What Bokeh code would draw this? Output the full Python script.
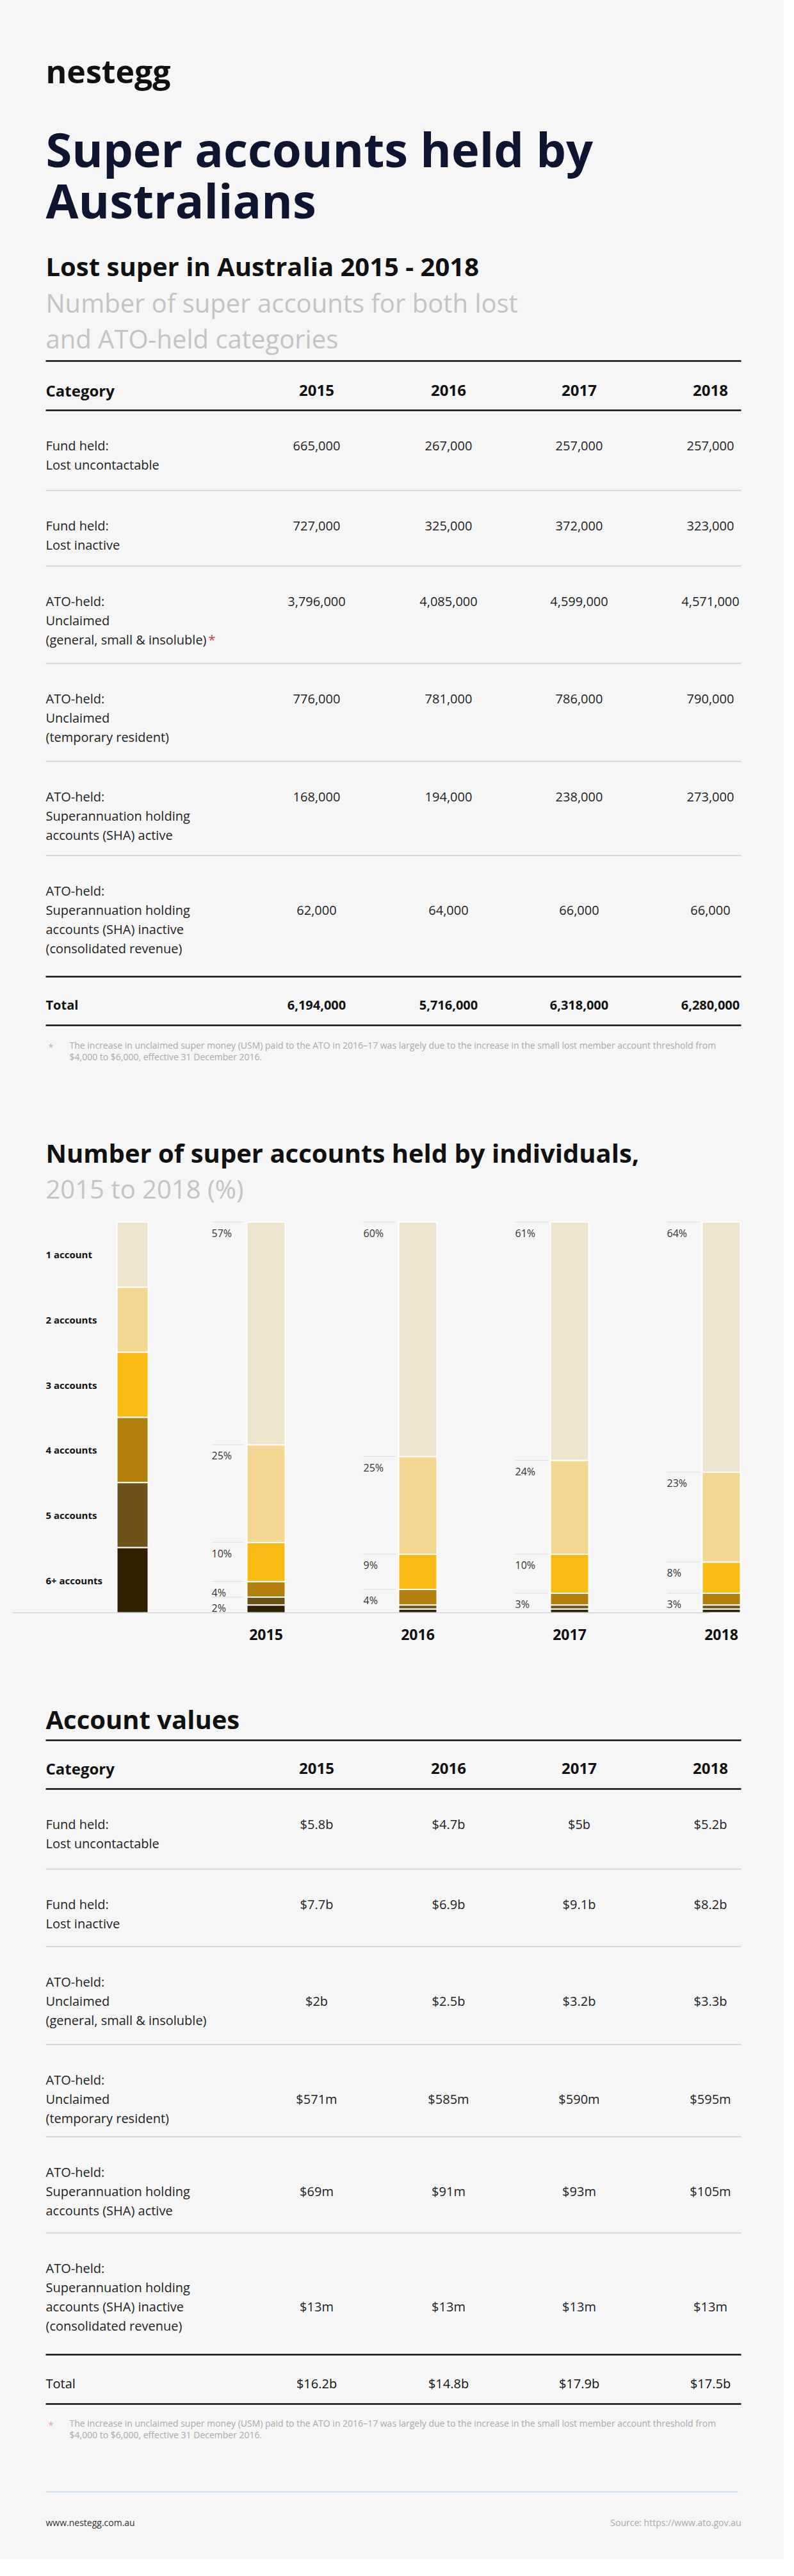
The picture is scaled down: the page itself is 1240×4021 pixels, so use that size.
from bokeh.plotting import figure
from bokeh.models import Range1d, ColumnDataSource
from bokeh.core.properties import value
from bokeh.embed import file_html
from bokeh.resources import INLINE

# ---------------- data ----------------
years = ["2015", "2016", "2017", "2018"]

lost_categories = [
    ["Fund held:", "Lost uncontactable"],
    ["Fund held:", "Lost inactive"],
    ["ATO-held:", "Unclaimed", "(general, small & insoluble)"],
    ["ATO-held:", "Unclaimed", "(temporary resident)"],
    ["ATO-held:", "Superannuation holding", "accounts (SHA) active"],
    ["ATO-held:", "Superannuation holding", "accounts (SHA) inactive", "(consolidated revenue)"],
]
accounts_2015 = [665000, 727000, 3796000, 776000, 168000, 62000]
accounts_2016 = [267000, 325000, 4085000, 781000, 194000, 64000]
accounts_2017 = [257000, 372000, 4599000, 786000, 238000, 66000]
accounts_2018 = [257000, 323000, 4571000, 790000, 273000, 66000]
accounts_total = [6194000, 5716000, 6318000, 6280000]

value_categories = [
    ["Fund held:", "Lost uncontactable"],
    ["Fund held:", "Lost inactive"],
    ["ATO-held:", "Unclaimed", "(general, small & insoluble)"],
    ["ATO-held:", "Unclaimed", "(temporary resident)"],
    ["ATO-held:", "Superannuation holding", "accounts (SHA) active"],
    ["ATO-held:", "Superannuation holding", "accounts (SHA) inactive", "(consolidated revenue)"],
]
# values in $ millions
value_2015 = [5800, 7700, 2000, 571, 69, 13]
value_2016 = [4700, 6900, 2500, 585, 91, 13]
value_2017 = [5000, 9100, 3200, 590, 93, 13]
value_2018 = [5200, 8200, 3300, 595, 105, 13]
value_total = [16200, 14800, 17900, 17500]

holdings = ["1 account", "2 accounts", "3 accounts", "4 accounts", "5 accounts", "6+ accounts"]
share_2015 = [57, 25, 10, 4, 2, 2]
share_2016 = [60, 25, 9, 4, 1, 1]
share_2017 = [61, 24, 10, 3, 1, 1]
share_2018 = [64, 23, 8, 3, 1, 1]
holding_colors = ["#efe5cf", "#f3d792", "#f8bb16", "#b3800d", "#6d531b", "#2f2000"]

footnote = ["The increase in unclaimed super money (USM) paid to the ATO in 2016\u201317 was largely due to the increase in the small lost member account threshold from",
            "$4,000 to $6,000, effective 31 December 2016."]

# ---------------- figure ----------------
BG = "#f6f6f6"
W, H = 1224, 3995
p = figure(width=W, height=H, x_range=Range1d(8, 8 + W), y_range=Range1d(8 + H, 8),
           output_backend="svg", toolbar_location=None, min_border=0,
           x_axis_type=None, y_axis_type=None,
           background_fill_color=BG, border_fill_color=BG)
p.grid.visible = False
p.outline_line_color = None

# chart percentage scale: 0% at y=2525 px, 100% at y=1915 px
CH_TOP, CH_BOT = 1915, 2525
PXP = (CH_BOT - CH_TOP) / 100.0   # px per percent
p.extra_y_ranges = {"pct": Range1d(start=(CH_BOT - (8 + H)) / PXP, end=(CH_BOT - 8) / PXP)}

FONT = value("Open Sans")


def add_text(xs, ys, texts, size, color, style="normal", align="left",
             baseline="alphabetic", yr="default"):
    src = ColumnDataSource(dict(x=list(xs), y=list(ys), t=list(texts)))
    p.text(x="x", y="y", text="t", source=src, text_font=FONT, text_font_size=size,
           text_color=color, text_font_style=style, text_align=align,
           text_baseline=baseline, y_range_name=yr)


def hline(y, x0=79, x1=1165, color="#111111", width=2.5):
    p.segment(x0=[x0], x1=[x1], y0=[y], y1=[y], line_color=color, line_width=width)


X0, X1 = 79, 1165
COLS = [502, 708, 912, 1117]
LH = 30

# ---------------- header ----------------
add_text([X0], [118], ["nestegg"], "50px", "#111111", "bold")
add_text([X0, X0], [240, 320], ["Super accounts held by", "Australians"], "74px", "#0f1530", "bold")
add_text([X0], [423], ["Lost super in Australia 2015 - 2018"], "40px", "#111111", "bold")
add_text([X0, X0], [480, 536], ["Number of super accounts for both lost", "and ATO-held categories"],
         "40px", "#c4c4c4")


def draw_table(top, head_base, head_line, seps, end_line, total_base, total_line,
               cats, cols, val_idx, totals, total_bold, foot_base, star_after=None):
    hline(top)
    add_text([X0], [head_base], ["Category"], "24px", "#111111", "bold")
    add_text(COLS, [head_base] * 4, years, "24px", "#111111", "bold", align="center")
    hline(head_line)
    starts = [head_line] + seps
    cx, cy, ct, vx, vy, vt = [], [], [], [], [], []
    for r, lines in enumerate(cats):
        b0 = starts[r] + 55
        for k, ln in enumerate(lines):
            cx.append(X0); cy.append(b0 + k * LH); ct.append(ln)
        for c in range(4):
            vx.append(COLS[c]); vy.append(b0 + val_idx[r] * LH); vt.append(cols[c][r])
    add_text(cx, cy, ct, "20px", "#222222")
    add_text(vx, vy, vt, "20px", "#222222", align="center")
    for s in seps:
        hline(s, color="#cfcfcf", width=1.5)
    hline(end_line)
    style = "bold" if total_bold else "normal"
    add_text([X0], [total_base], ["Total"], "20px", "#111111", style)
    add_text(COLS, [total_base] * 4, totals, "20px", "#111111", style, align="center")
    hline(total_line)
    add_text([83], [foot_base + 2], ["*"], "15px", "#e2a3a3")
    add_text([116, 116], [foot_base, foot_base + 18], footnote, "14px", "#a9a9a9")
    if star_after is not None:
        add_text([star_after[0]], [starts[star_after[1]] + 55 + star_after[2] * LH], ["*"], "20px", "#d0343b")


fmt_n = lambda v: f"{v:,}"
fmt_m = lambda m: f"${m/1000:g}b" if m >= 1000 else f"${m:g}m"

draw_table(571, 617, 648, [773, 891, 1043, 1196, 1343], 1532, 1576, 1608,
           lost_categories,
           [[fmt_n(v) for v in col] for col in (accounts_2015, accounts_2016, accounts_2017, accounts_2018)],
           [0, 0, 0, 0, 0, 1], [fmt_n(v) for v in accounts_total], True, 1639,
           star_after=(333, 2, 2))

# ---------------- stacked bar chart ----------------
add_text([X0], [1807], ["Number of super accounts held by individuals,"], "40px", "#111111", "bold")
add_text([X0], [1863], ["2015 to 2018 (%)"], "40px", "#c4c4c4")

# key bar (equal segments)
n = len(holdings)
seg = 100.0 / n
p.quad(left=[190] * n, right=[239] * n,
       top=[100 - j * seg for j in range(n)], bottom=[100 - (j + 1) * seg for j in range(n)],
       fill_color=holding_colors, line_color="#ffffff", line_width=2, y_range_name="pct")
add_text([X0] * n, [100 - (j + 0.5) * seg for j in range(n)], holdings, "15px", "#111111",
         "bold", baseline="middle", yr="pct")

shares = [share_2015, share_2016, share_2017, share_2018]
bar_x = [423 + 237 * i for i in range(4)]
BAR_W = 60
data = dict(x=bar_x)
for j in range(n):
    data[f"s{j}"] = [sh[j] for sh in shares]
src = ColumnDataSource(data)
stack_keys = [f"s{j}" for j in reversed(range(n))]
p.vbar_stack(stack_keys, x="x", width=BAR_W, source=src,
             color=list(reversed(holding_colors)), line_color="#ffffff", line_width=2,
             y_range_name="pct")

lx0, lx1, ly, tx, ty, tt = [], [], [], [], [], []
for i, sh in enumerate(shares):
    left = bar_x[i] - BAR_W / 2
    top = 100.0
    for j in range(n):
        if j < n - 1 and sh[j] >= 2:
            lx0.append(left - 55); lx1.append(left - 4); ly.append(top)
            tx.append(left - 55); ty.append(top - 17 / PXP); tt.append(f"{sh[j]}%")
        top -= sh[j]
p.segment(x0=lx0, x1=lx1, y0=ly, y1=ly, line_color="#dddddd", line_width=1, y_range_name="pct")
add_text(tx, ty, tt, "16px", "#333333", yr="pct")

p.segment(x0=[27], x1=[1115], y0=[0], y1=[0], line_color="#cccccc", line_width=1.2, y_range_name="pct")
add_text(bar_x, [2559] * 4, years, "23px", "#111111", "bold", align="center")

# ---------------- account values table ----------------
add_text([X0], [2691], ["Account values"], "40px", "#111111", "bold")
draw_table(2724, 2768, 2800, [2925, 3046, 3199, 3343, 3493], 3683, 3728, 3760,
           value_categories,
           [[fmt_m(v) for v in col] for col in (value_2015, value_2016, value_2017, value_2018)],
           [0, 0, 1, 1, 1, 2], [fmt_m(v) for v in value_total], False, 3790)

# ---------------- footer ----------------
hline(3897, x0=79, x1=1160, color="#c6dcee", width=1.5)
add_text([X0], [3945], ["www.nestegg.com.au"], "14px", "#333333")
add_text([X1], [3945], ["Source: https://www.ato.gov.au"], "14px", "#aaaaaa", align="right")

html = file_html(p, INLINE, title="Super accounts held by Australians")
html = html.replace("<body>", '<body style="background-color:#f6f6f6;">', 1)
open("out.html", "w").write(html)
